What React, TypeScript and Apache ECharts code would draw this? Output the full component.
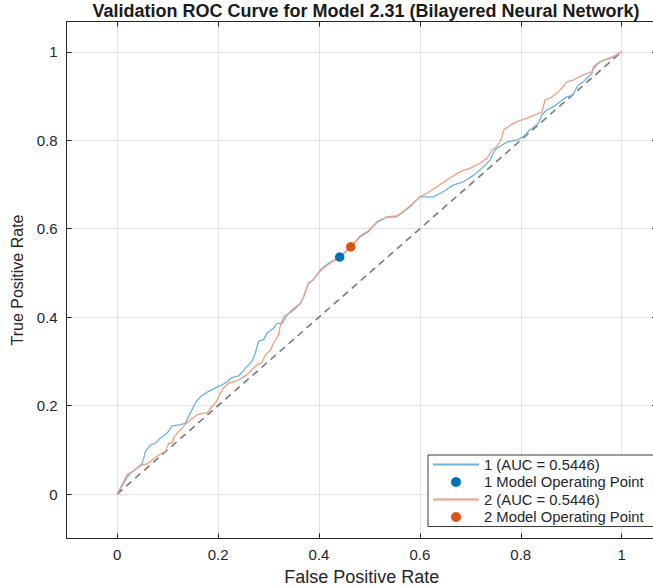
import React, { useEffect, useRef } from "react";
import * as echarts from "echarts";

const TITLE = "Validation ROC Curve for Model 2.31 (Bilayered Neural Network)";
const X_NAME = "False Positive Rate";
const Y_NAME = "True Positive Rate";
const TICKS = [0, 0.2, 0.4, 0.6, 0.8, 1];

const SERIES1_NAME = "1 (AUC = 0.5446)";
const SERIES2_NAME = "2 (AUC = 0.5446)";
const OP1_NAME = "1 Model Operating Point";
const OP2_NAME = "2 Model Operating Point";

const fpr1 = [0, 0.0165, 0.026, 0.04, 0.05, 0.056, 0.066, 0.076, 0.086, 0.099, 0.109, 0.125, 0.135, 0.145, 0.155, 0.165, 0.178, 0.195, 0.208, 0.218, 0.228, 0.241, 0.257, 0.267, 0.274, 0.28, 0.29, 0.297, 0.31, 0.317, 0.327, 0.337, 0.35, 0.363, 0.37, 0.379, 0.389, 0.403, 0.419, 0.441, 0.463, 0.482, 0.498, 0.515, 0.535, 0.554, 0.564, 0.581, 0.6, 0.614, 0.627, 0.647, 0.667, 0.686, 0.706, 0.726, 0.739, 0.749, 0.759, 0.775, 0.792, 0.805, 0.818, 0.835, 0.842, 0.851, 0.865, 0.878, 0.891, 0.904, 0.908, 0.914, 0.924, 0.934, 0.941, 0.944, 0.954, 0.964, 0.977, 0.99, 1];
const tpr1 = [0, 0.032, 0.047, 0.059, 0.07, 0.096, 0.111, 0.115, 0.127, 0.138, 0.154, 0.157, 0.16, 0.183, 0.206, 0.22, 0.23, 0.24, 0.247, 0.254, 0.264, 0.267, 0.288, 0.3, 0.319, 0.345, 0.349, 0.364, 0.375, 0.386, 0.386, 0.405, 0.416, 0.431, 0.446, 0.477, 0.484, 0.507, 0.522, 0.535, 0.559, 0.582, 0.593, 0.616, 0.626, 0.627, 0.635, 0.65, 0.672, 0.672, 0.672, 0.684, 0.699, 0.706, 0.72, 0.74, 0.755, 0.778, 0.787, 0.797, 0.8, 0.808, 0.823, 0.838, 0.857, 0.868, 0.876, 0.887, 0.898, 0.902, 0.913, 0.925, 0.932, 0.944, 0.951, 0.966, 0.975, 0.981, 0.985, 0.992, 1];

const fpr2 = [0, 0.02, 0.03, 0.04, 0.05, 0.059, 0.066, 0.079, 0.089, 0.096, 0.102, 0.109, 0.112, 0.119, 0.125, 0.135, 0.145, 0.158, 0.171, 0.178, 0.185, 0.195, 0.201, 0.211, 0.221, 0.231, 0.244, 0.257, 0.267, 0.277, 0.287, 0.294, 0.304, 0.31, 0.32, 0.323, 0.33, 0.34, 0.35, 0.363, 0.37, 0.379, 0.389, 0.403, 0.419, 0.441, 0.463, 0.482, 0.498, 0.515, 0.535, 0.554, 0.564, 0.581, 0.6, 0.614, 0.634, 0.653, 0.68, 0.7, 0.719, 0.733, 0.743, 0.752, 0.762, 0.766, 0.779, 0.792, 0.812, 0.828, 0.842, 0.848, 0.858, 0.871, 0.884, 0.891, 0.904, 0.917, 0.931, 0.941, 0.947, 0.957, 0.97, 0.983, 1];
const tpr2 = [0, 0.044, 0.051, 0.059, 0.066, 0.068, 0.074, 0.085, 0.093, 0.096, 0.115, 0.115, 0.127, 0.138, 0.145, 0.157, 0.168, 0.179, 0.183, 0.183, 0.194, 0.206, 0.22, 0.24, 0.251, 0.254, 0.26, 0.27, 0.281, 0.292, 0.297, 0.315, 0.326, 0.341, 0.36, 0.379, 0.401, 0.409, 0.42, 0.431, 0.448, 0.475, 0.486, 0.505, 0.52, 0.536, 0.559, 0.584, 0.595, 0.614, 0.627, 0.629, 0.636, 0.652, 0.672, 0.68, 0.695, 0.71, 0.729, 0.737, 0.748, 0.759, 0.778, 0.785, 0.804, 0.823, 0.834, 0.842, 0.85, 0.857, 0.864, 0.891, 0.895, 0.906, 0.921, 0.932, 0.936, 0.944, 0.951, 0.955, 0.966, 0.977, 0.983, 0.989, 1];

const op1 = [0.441, 0.536];
const op2 = [0.463, 0.559];
const diagX = [0, 1];
const diagY = [0, 1];

const FONT = "'Liberation Sans', Arial, Helvetica, sans-serif";
const AXIS_COLOR = "#262626";

export default function App() {
  const ref = useRef<HTMLDivElement>(null);
  useEffect(() => {
    document.body.style.margin = "0";
    document.body.style.overflow = "hidden";
    if (!ref.current) return;
    const chart = echarts.init(ref.current, null, { renderer: "svg" });
    const zip = (xs: number[], ys: number[]) => xs.map((x, i) => [x, ys[i]]);
    const labelFmt = (v: number) => String(Math.round(v * 10) / 10);
    const baseAxis = {
      type: "value" as const,
      splitNumber: 5,
      axisLine: { show: true, onZero: false, lineStyle: { color: AXIS_COLOR, width: 1 } },
      axisTick: { show: true, inside: true, length: 5, customValues: TICKS, lineStyle: { color: AXIS_COLOR } },
      axisLabel: {
        show: true,
        customValues: TICKS,
        formatter: labelFmt,
        fontSize: 15,
        fontFamily: FONT,
        color: AXIS_COLOR,
      },
      splitLine: { show: true, lineStyle: { color: "#e3e3e3", width: 1 } },
    };
    chart.setOption({
      animation: false,
      backgroundColor: "#ffffff",
      title: {
        text: TITLE,
        left: 361,
        top: -3,
        textAlign: "center",
        textStyle: { fontSize: 18, fontWeight: "bold", fontFamily: FONT, color: "#1a1a1a" },
      },
      grid: {
        left: 66.7,
        top: 21.7,
        right: -4,
        bottom: 48.7,
        containLabel: false,
        outerBoundsMode: "none",
      },
      xAxis: [
        {
          ...baseAxis,
          min: -0.1,
          max: 1.07,
          position: "bottom",
          axisLabel: { ...baseAxis.axisLabel, margin: 9 },
          name: X_NAME,
          nameLocation: "middle",
          nameGap: 30,
          nameTextStyle: { fontSize: 18, fontFamily: FONT, color: AXIS_COLOR },
        },
        {
          ...baseAxis,
          min: -0.1,
          max: 1.07,
          position: "top",
          axisLabel: { show: false },
          splitLine: { show: false },
        },
      ],
      yAxis: [
        {
          ...baseAxis,
          min: -0.1,
          max: 1.068,
          position: "left",
          axisLabel: { ...baseAxis.axisLabel, margin: 9 },
          name: Y_NAME,
          nameLocation: "middle",
          nameGap: 38,
          nameTextStyle: { fontSize: 16, fontFamily: FONT, color: AXIS_COLOR },
        },
        {
          ...baseAxis,
          min: -0.1,
          max: 1.068,
          position: "right",
          axisLabel: { show: false },
          splitLine: { show: false },
        },
      ],
      legend: {
        orient: "vertical",
        left: 428,
        top: 455,
        backgroundColor: "#ffffff",
        borderColor: "#3a3a3a",
        borderWidth: 1,
        borderRadius: 0,
        padding: [2, 10, 2, 4],
        itemWidth: 46,
        itemHeight: 10,
        itemGap: 2.5,
        textStyle: { fontSize: 14.8, fontFamily: FONT, color: AXIS_COLOR },
        data: [
          { name: SERIES1_NAME, itemStyle: { opacity: 0 } },
          { name: OP1_NAME, icon: "circle" },
          { name: SERIES2_NAME, itemStyle: { opacity: 0 } },
          { name: OP2_NAME, icon: "circle" },
        ],
      },
      series: [
        {
          name: "diag",
          type: "line",
          data: zip(diagX, diagY),
          symbol: "none",
          lineStyle: { color: "#7a7a7a", width: 1.6, type: [7, 5] },
          silent: true,
          z: 1,
        },
        {
          name: SERIES1_NAME,
          type: "line",
          data: zip(fpr1, tpr1),
          symbol: "none",
          lineStyle: { color: "#6db3e1", width: 1.3 },
          itemStyle: { color: "#6db3e1" },
          z: 2,
        },
        {
          name: SERIES2_NAME,
          type: "line",
          data: zip(fpr2, tpr2),
          symbol: "none",
          lineStyle: { color: "#f09e7e", width: 1.3 },
          itemStyle: { color: "#f09e7e" },
          z: 3,
        },
        {
          name: OP1_NAME,
          type: "scatter",
          data: [op1],
          symbol: "circle",
          symbolSize: 9.5,
          itemStyle: { color: "#0072bd", opacity: 1 },
          z: 4,
        },
        {
          name: OP2_NAME,
          type: "scatter",
          data: [op2],
          symbol: "circle",
          symbolSize: 9.5,
          itemStyle: { color: "#d95319", opacity: 1 },
          z: 5,
        },
      ],
    });
    return () => chart.dispose();
  }, []);
  return <div ref={ref} style={{ width: 653, height: 587 }} />;
}
